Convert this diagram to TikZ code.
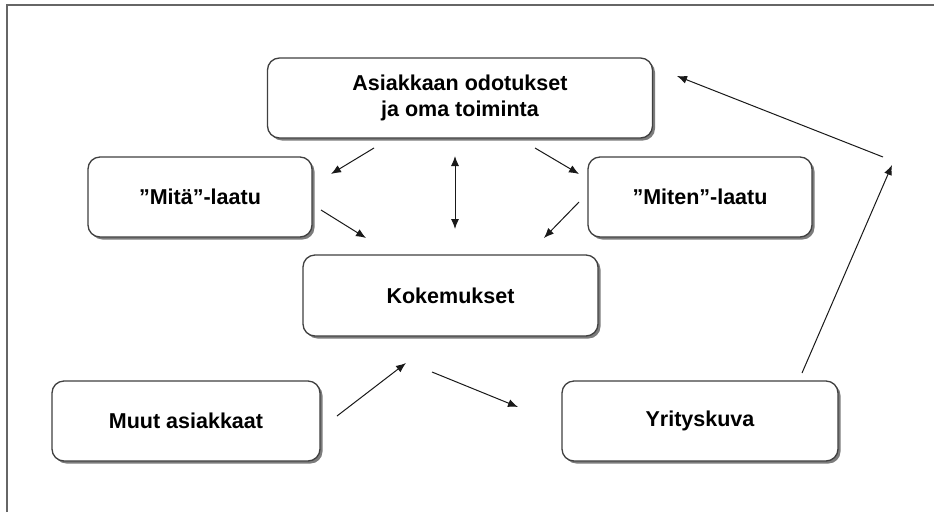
\documentclass[tikz,border=0pt]{standalone}
\usepackage{fontspec}
\setmainfont{Liberation Sans}
\usetikzlibrary{arrows.meta,shadows}
\begin{document}
\begin{tikzpicture}[x=1pt,y=-1pt,
  boxst/.style={draw=black!75, line width=1.3pt, rounded corners=12pt, fill=white,
     drop shadow={shadow xshift=2.5pt, shadow yshift=-2.5pt, fill=black!60, opacity=0.85},
     inner sep=0pt, font=\fontsize{21.5}{26}\selectfont\bfseries, align=center},
  arr/.style={-{Latex[length=10pt,width=8pt]}, line width=1pt, black!90},
  darr/.style={{Latex[length=10pt,width=8pt]}-{Latex[length=10pt,width=8pt]}, line width=1pt, black!90},
  framest/.style={draw=black!60, line width=1.5pt}]
\useasboundingbox (0,0) rectangle (934,512);
\fill[white] (0,0) rectangle (934,512);
\draw[framest] (7,512) -- (7,5) -- (934,5);
\node[boxst, minimum width=385pt, minimum height=80pt] (asi) at (460,98) {Asiakkaan odotukset\\ja oma toiminta};
\node[boxst, minimum width=224pt, minimum height=80pt] (mita) at (200,197) {”Mitä”-laatu};
\node[boxst, minimum width=224pt, minimum height=80pt] (miten) at (700,197) {”Miten”-laatu};
\node[boxst, minimum width=295pt, minimum height=81pt] (kok) at (450.5,295.5) {Kokemukset};
\node[boxst, minimum width=268pt, minimum height=80pt] (muut) at (186,421) {Muut asiakkaat};
\node[boxst, minimum width=276pt, minimum height=80pt] (yri) at (700,421) {Yrityskuva};
\coordinate (a1s) at (374,148); \coordinate (a1e) at (331,174);
\coordinate (a2s) at (321,210); \coordinate (a2e) at (366,238);
\coordinate (a3s) at (455,156); \coordinate (a3e) at (455,229);
\coordinate (a4s) at (535,148); \coordinate (a4e) at (579,174);
\coordinate (a5s) at (579,202); \coordinate (a5e) at (544,238);
\coordinate (a6s) at (337,416); \coordinate (a6e) at (406,363);
\coordinate (a7s) at (432,372); \coordinate (a7e) at (518,407);
\coordinate (a8s) at (802,373); \coordinate (a8e) at (892,165);
\coordinate (a9s) at (883,157); \coordinate (a9e) at (677,76);
\draw[arr] (a1s) -- (a1e);
\draw[arr] (a2s) -- (a2e);
\draw[darr] (a3s) -- (a3e);
\draw[arr] (a4s) -- (a4e);
\draw[arr] (a5s) -- (a5e);
\draw[arr] (a6s) -- (a6e);
\draw[arr] (a7s) -- (a7e);
\draw[arr] (a8s) -- (a8e);
\draw[arr] (a9s) -- (a9e);
\end{tikzpicture}
\end{document}
